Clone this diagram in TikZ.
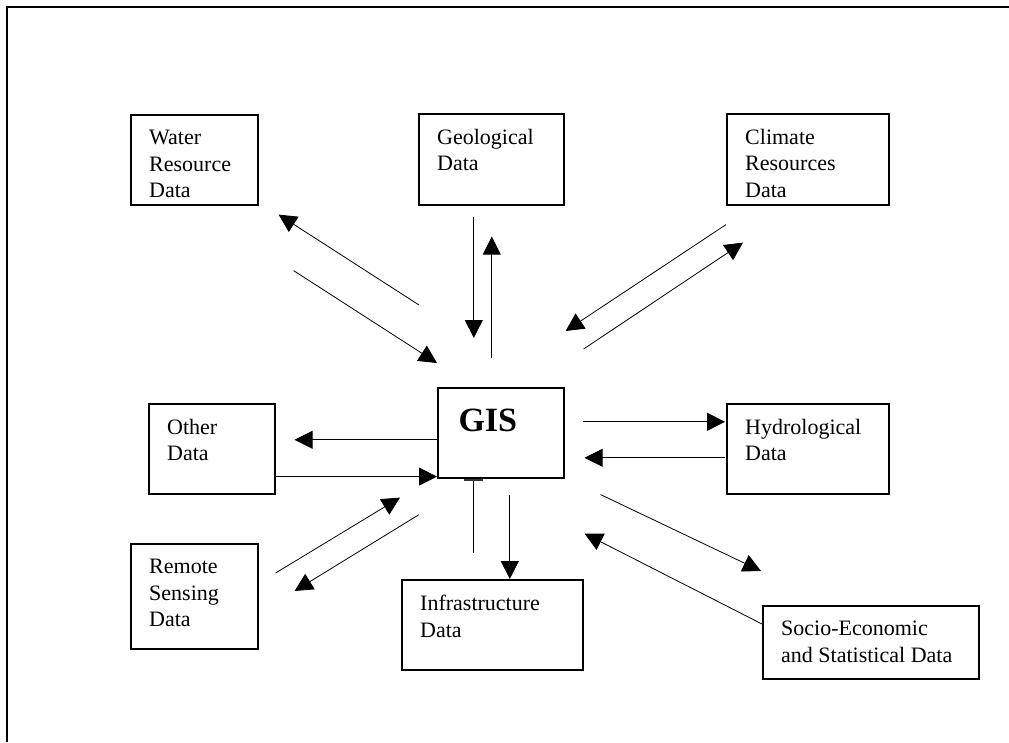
\documentclass[tikz,border=0pt]{standalone}
\usepackage{fontspec}
\setmainfont{Liberation Serif}
\usetikzlibrary{arrows.meta}
\tikzset{
    box/.style = {
      draw=black, line width=1.6pt, inner sep=0, anchor=north west,
    },
    box text/.style = {
      anchor=north west, align=left, inner sep=0,
      font=\fontsize{22}{26.5}\selectfont,
    },
    title text/.style = {inner sep=0, font=\fontsize{34}{40}\selectfont\bfseries},
    plain link/.style = {line width=0.8pt, black},
    link/.style = {plain link, arrows={-Triangle[length=18pt, width=18pt]}},
    frame/.style = {line width=1.6pt, black},
    hidden tip/.style = {line width=2.2pt, black!80!white},
}
\newcommand{\databox}[5]{%
  %% Draw one data source box:
  %% Arguments:
  %%    1. Name
  %%    2. Top left corner
  %%    3. Width
  %%    4. Height
  %%    5. Text
  \node [box, minimum width=#3, minimum height=#4] (#1) at (#2) {};
  \node [box text] (#1_text) at ([shift={(19,16)}] #1.north west) {#5};
}

\begin{document}
\begin{tikzpicture}[x=1pt, y=-1pt]
    \useasboundingbox (0,0) rectangle (1009,742);

    %% Outer frame, only its top and left edges are in view
    \coordinate (frame_tr) at (1009,7);
    \coordinate (frame_tl) at (7,7);
    \coordinate (frame_bl) at (7,742);
    \draw [frame] (frame_tr) -- (frame_tl) -- (frame_bl);

    %% The data sources round the GIS
    \databox{water}{130,114}{127pt}{90pt}{Water\\Resource\\Data}
    \databox{geo}{418,113}{145pt}{91pt}{Geological\\Data}
    \databox{climate}{726,113}{162pt}{91pt}{Climate\\Resources\\Data}
    \databox{other}{148,403}{126pt}{90pt}{Other\\Data}
    \databox{hydro}{726,403}{162pt}{90pt}{Hydrological\\Data}
    \databox{remote}{130,543}{127pt}{105pt}{Remote\\Sensing\\Data}
    \databox{infra}{401,579}{181pt}{90pt}{Infrastructure\\Data}
    \databox{socio}{762,605}{216pt}{73pt}{Socio-Economic\\and Statistical Data}

    %% The GIS in the middle
    \node [box, minimum width=126pt, minimum height=90pt] (gis) at (437,387) {};
    \node [title text] (gis_text) at ([shift={(-13,-12)}] gis.center) {GIS};

    %% Links to and from the top row
    \draw [link] ([shift={(-18,-82)}] gis.north west) -- ([shift={(20,9)}] water.south east);
    \draw [link] ([shift={(35,65)}] water.south east) -- ([shift={(0,-24)}] gis.north west);
    \draw [link] ([shift={(-17.5,11)}] geo.south) -- ([shift={(-27,-49)}] gis.north);
    \draw [link] ([shift={(-9,-29)}] gis.north) -- ([shift={(0.5,31)}] geo.south);
    \draw [link] ([shift={(0,19)}] climate.south west) -- ([shift={(1,-56)}] gis.north east);
    \draw [link] ([shift={(19,-38)}] gis.north east) -- ([shift={(17,37)}] climate.south west);

    %% Links to and from the sides
    \draw [link] ([shift={(0,7)}] gis.west) -- ([shift={(19,-9)}] other.east);
    \draw [link] ([shift={(0,-18)}] other.south east) -- ([shift={(0,-2)}] gis.south west);
    \draw [link] ([shift={(18,-11)}] gis.east) -- ([shift={(-1,-27)}] hydro.west);
    \draw [link] ([shift={(-1,9)}] hydro.west) -- ([shift={(20,25)}] gis.east);

    %% Links to and from the bottom row
    \draw [link] ([shift={(17,30)}] remote.north east) -- ([shift={(-37,19)}] gis.south west);
    \draw [link] ([shift={(-18,36)}] gis.south west) -- ([shift={(36,48)}] remote.north east);
    \draw [plain link] ([shift={(-18.5,-26)}] infra.north) -- ([shift={(-27,0)}] gis.south);
    \draw [hidden tip] ([shift={(-37,1)}] gis.south) -- ([shift={(-18,1)}] gis.south);
    \draw [link] ([shift={(9,16)}] gis.south) -- ([shift={(17.5,0)}] infra.north);
    \draw [link] ([shift={(36,16)}] gis.south east) -- ([shift={(-1,-34)}] socio.north west);
    \draw [link] ([shift={(0,19)}] socio.north west) -- ([shift={(20,55)}] gis.south east);
\end{tikzpicture}
\end{document}
